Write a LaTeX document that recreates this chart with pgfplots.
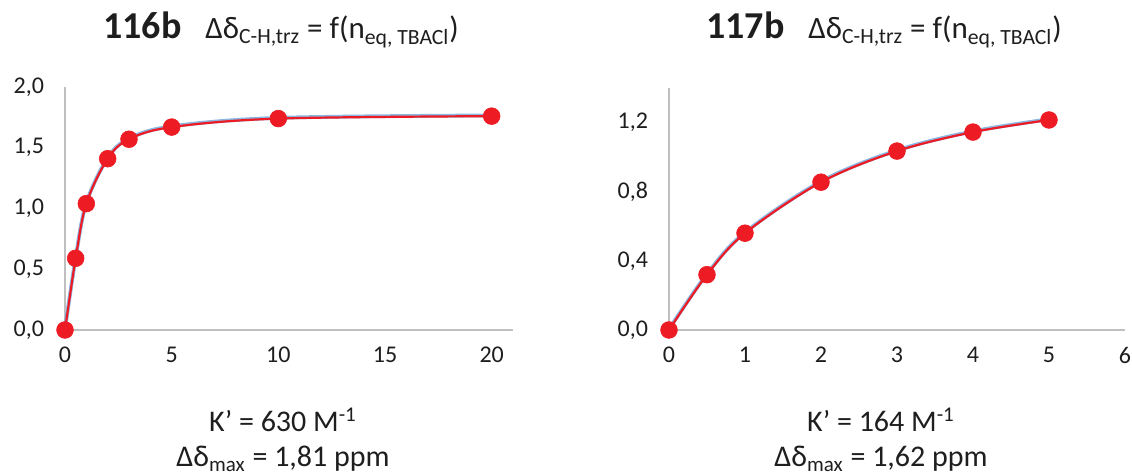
\documentclass[border=0pt]{standalone}
\usepackage{pgfplots}
\pgfplotsset{compat=1.18}
\usepackage{fontspec}
\setmainfont{Carlito}
\definecolor{mred}{RGB}{237,28,36}
\definecolor{mblue}{RGB}{110,165,220}
\definecolor{axgray}{RGB}{191,191,191}
\definecolor{txt}{RGB}{30,30,30}
\pgfplotsset{
 myax/.style={
  scale only axis, clip=false,
  axis x line*=bottom, axis y line*=left,
  axis line style={draw=axgray, line width=0.9pt},
  major tick length=0pt,
  tick label style={font=\fontsize{12}{14}\selectfont, text=txt},
  /pgf/number format/assume math mode=true,
  ymin=0, xmin=0,
  y tick label style={/pgf/number format/fixed, /pgf/number format/fixed zerofill,
     /pgf/number format/precision=1, /pgf/number format/use comma, xshift=-7pt},
  x tick label style={yshift=-5pt},
 },
 fitline/.style={mblue, line width=1.9pt, smooth, tension=0.55, opacity=0.8, yshift=0.35pt, forget plot},
 dataline/.style={mred, line width=1.1pt, smooth, tension=0.55, mark=*, mark size=4.2pt,
   mark options={fill=mred, draw=mred, line width=0.3pt}},
}
\begin{document}
\begin{tikzpicture}
\useasboundingbox (0,0) rectangle (566pt,237pt);
% left panel
\begin{axis}[myax, at={(32.5pt,72pt)}, anchor=south west,
  width=224pt, height=121.5pt, xmax=21, ymax=2,
  xtick={0,5,10,15,20}, ytick={0,0.5,1,1.5,2}]
\addplot[fitline] coordinates {(0,0) (0.5,0.59) (1,1.04) (2,1.41) (3,1.57) (5,1.67) (10,1.74) (20,1.76)};
\addplot[dataline] coordinates {(0,0) (0.5,0.59) (1,1.04) (2,1.41) (3,1.57) (5,1.67) (10,1.74) (20,1.76)};
\end{axis}
% right panel
\begin{axis}[myax, at={(334.5pt,72pt)}, anchor=south west,
  width=228pt, height=121pt, xmax=6, ymax=1.4,
  xtick={0,1,2,3,4,5,6}, ytick={0,0.4,0.8,1.2}]
\addplot[fitline] coordinates {(0,0) (0.5,0.32) (1,0.56) (2,0.855) (3,1.035) (4,1.145) (5,1.215)};
\addplot[dataline] coordinates {(0,0) (0.5,0.32) (1,0.56) (2,0.855) (3,1.035) (4,1.145) (5,1.215)};
\end{axis}
% titles
\node[anchor=base west, text=txt, inner sep=0pt] at (51.5pt,217.5pt) {\fontsize{19}{21}\selectfont\bfseries 116b};
\node[anchor=base west, text=txt, inner sep=0pt] at (102.5pt,217.5pt) {\fontsize{15.5}{17}\selectfont Δδ\textsubscript{C-H,trz} = f(n\textsubscript{eq, TBACl})};
\node[anchor=base west, text=txt, inner sep=0pt] at (353pt,217.5pt) {\fontsize{19}{21}\selectfont\bfseries 117b};
\node[anchor=base west, text=txt, inner sep=0pt] at (404pt,217.5pt) {\fontsize{15.5}{17}\selectfont Δδ\textsubscript{C-H,trz} = f(n\textsubscript{eq, TBACl})};
% bottom texts
\node[anchor=base, text=txt, inner sep=0pt] at (141.5pt,21pt) {\fontsize{15}{17}\selectfont K’ = 630 M\textsuperscript{-1}};
\node[anchor=base, text=txt, inner sep=0pt] at (141.5pt,3.5pt) {\fontsize{15}{17}\selectfont Δδ\textsubscript{max} = 1,81 ppm};
\node[anchor=base, text=txt, inner sep=0pt] at (440.5pt,21pt) {\fontsize{15}{17}\selectfont K’ = 164 M\textsuperscript{-1}};
\node[anchor=base, text=txt, inner sep=0pt] at (440.5pt,3.5pt) {\fontsize{15}{17}\selectfont Δδ\textsubscript{max} = 1,62 ppm};
\end{tikzpicture}
\end{document}
